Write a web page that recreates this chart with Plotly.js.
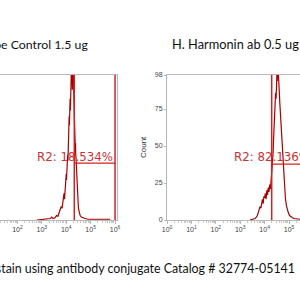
<!DOCTYPE html>
<html><head><meta charset="utf-8">
<script src="https://cdn.plot.ly/plotly-3.0.1.min.js"></script>
<style>html,body{margin:0;padding:0;background:#fff;}#c{width:300px;height:300px;}</style>
</head><body><div id="c"></div>
<script>
// Left panel: isotype control histogram (x = log10 intensity, y = count)
const leftExp = [2.80,3.00,3.20,3.35,3.41,3.46,3.54,3.60,3.66,3.71,3.75,3.79,3.83,3.86,3.88,3.91,3.93,3.95,3.97,3.98,4.00,4.01,4.03,4.04,4.06,4.07,4.08,4.09,4.10,4.11,4.12,4.13,4.14,4.16,4.17,4.18,4.19,4.20,4.21,4.22,4.23,4.24,4.25,4.26,4.27,4.28,4.29,4.30,4.31,4.32,4.33,4.34,4.35,4.36,4.37,4.38,4.39,4.40,4.42,4.43,4.45,4.48,4.50,4.54,4.57,4.62,4.68,4.77,4.90,5.10,5.40,5.80];
const leftCnt = [0,0.5,0.5,1,2,1,1.5,3,2.5,5,6,9,8,12,15,18,14,22,19,24,31,27,36,30,44,40,52,46,60,54,70,64,76,82,74,90,84,100,92,108,96,102,88,112,100,96,104,91,80,88,72,70,58,55,48,52,44,42,34,30,20,10,8,5,3,2,1.5,1,0.5,0.5,0,0.5];
// Right panel: H. Harmonin antibody histogram
const rightExp = [3.40,3.55,3.61,3.66,3.70,3.74,3.78,3.81,3.85,3.88,3.91,3.94,3.97,4.00,4.03,4.06,4.09,4.12,4.15,4.18,4.21,4.24,4.27,4.30,4.32,4.33,4.35,4.36,4.38,4.39,4.41,4.42,4.44,4.45,4.47,4.48,4.50,4.51,4.52,4.53,4.54,4.55,4.56,4.57,4.58,4.59,4.61,4.62,4.64,4.65,4.67,4.68,4.70,4.72,4.74,4.77,4.79,4.82,4.85,4.89,4.93,4.97,5.02,5.08,5.14,5.20,5.28,5.36,5.45];
const rightCnt = [0,0.5,1,2,3,5,7,9,8,12,14,11,16,15,18,14,20,17,22,19,24,21,28,30,36,40,46,52,58,62,70,75,80,86,82,95,100,102,94,98,110,105,100,93,99,88,84,80,74,72,64,66,56,47,40,32,26,20,15,10,7,5,3,2,1.5,1,1,0.5,0.5];
// Gates R2: [low exponent, high exponent, marker count level]
const leftGate = [4.33, 6.0, 38.4];
const rightGate = [4.29, 6.0, 37.8];
const leftGateLabel = "R2: 18.534%";
const rightGateLabel = "R2: 82.136%";
const leftTicks = [2,3,4,5,6];
const rightTicks = [0,1,2,3,4,5];
const yTicks = [0,25,50,75,98];
const leftTitle = "Isotype Control 1.5 ug";
const rightTitle = "H. Harmonin ab 0.5 ug";
const caption = "Intracellular stain using antibody conjugate Catalog # 32774-05141";

function minors(a,b){const m=[];for(let n=a;n<b;n++){for(let k=2;k<=9;k++)m.push(n+Math.log10(k));}return m;}
const histColor = '#a80000', gateColor = '#d42020', labColor = '#cc3333', axc = '#b8b8b8';
const tickFont = {family:'Arial', size:7, color:'#444'};

const traces = [
 {x:leftExp, y:leftCnt, xaxis:'x', yaxis:'y', mode:'lines', line:{color:histColor,width:1.2}, hoverinfo:'none'},
 {x:rightExp, y:rightCnt, xaxis:'x2', yaxis:'y2', mode:'lines', line:{color:histColor,width:1.2}, hoverinfo:'none'}
];
function xax(domain, range, ticks){
 return {domain:domain, range:range, showgrid:false, zeroline:false, showline:true, mirror:true, linecolor:axc, linewidth:1,
  tickmode:'array', tickvals:ticks, ticktext:ticks.map(t=>'10<sup>'+t+'</sup>'), ticks:'outside', ticklen:3, tickcolor:axc,
  tickfont:tickFont, minor:{tickmode:'array', tickvals:minors(-1,7), ticks:'outside', ticklen:2, tickcolor:'#c8c8c8'}};
}
const gateShapes = (g, xr, yr) => [
 {type:'line', xref:xr, yref:yr, x0:g[0], x1:g[0], y0:0, y1:98, line:{color:gateColor,width:1.5}},
 {type:'line', xref:xr, yref:yr, x0:g[1], x1:g[1], y0:0, y1:98, line:{color:gateColor,width:1.5}},
 {type:'line', xref:xr, yref:yr, x0:g[0], x1:g[1], y0:g[2], y1:g[2], line:{color:gateColor,width:1.2}}
];
const layout = {
 width:300, height:300, margin:{l:0,r:0,t:75,b:80}, paper_bgcolor:'#fff', plot_bgcolor:'rgba(0,0,0,0)', showlegend:false,
 xaxis: Object.assign(xax([0,117/300],[1.287,6.08],leftTicks),{anchor:'y'}),
 yaxis: {anchor:'x', range:[0,98], side:'right', showline:true, linecolor:axc, showgrid:false, zeroline:false, showticklabels:false, ticks:''},
 xaxis2: Object.assign(xax([167/300,1],[0,5.45],rightTicks),{anchor:'y2'}),
 yaxis2: {anchor:'x2', range:[0,98], showline:true, linecolor:axc, showgrid:false, zeroline:false, tickmode:'array', tickvals:yTicks,
  ticks:'outside', ticklen:2, tickcolor:axc, tickfont:tickFont},
 shapes: gateShapes(leftGate,'x','y').concat(gateShapes(rightGate,'x2','y2')),
 annotations:[
  {xref:'x', yref:'y', x:5.98, y:42.7, xanchor:'right', yanchor:'middle', text:leftGateLabel, showarrow:false, font:{family:'DejaVu Sans', size:11.8, color:labColor}},
  {xref:'x2', yref:'y2', x:2.65, y:42.4, xanchor:'left', yanchor:'middle', text:rightGateLabel, showarrow:false, font:{family:'DejaVu Sans', size:11.8, color:labColor}},
  {xref:'paper', yref:'paper', x:143/300, y:(220-147)/145, text:'Count', textangle:-90, showarrow:false, font:{family:'Arial', size:8, color:'#333'}},
  {xref:'paper', yref:'paper', x:90/300, xanchor:'right', y:(220-44)/145, yanchor:'middle', text:leftTitle, showarrow:false, font:{family:'Lato', size:12.3, color:'#111'}},
  {xref:'paper', yref:'paper', x:170/300, xanchor:'left', y:(220-44)/145, yanchor:'middle', text:rightTitle, showarrow:false, font:{family:'Lato', size:12.8, color:'#111'}},
  {xref:'paper', yref:'paper', x:297/300, xanchor:'right', y:(220-268)/145, yanchor:'middle', text:caption, showarrow:false, font:{family:'Lato', size:12.4, color:'#111'}}
 ]
};
Plotly.newPlot('c', traces, layout, {staticPlot:true, displayModeBar:false});
</script></body></html>
